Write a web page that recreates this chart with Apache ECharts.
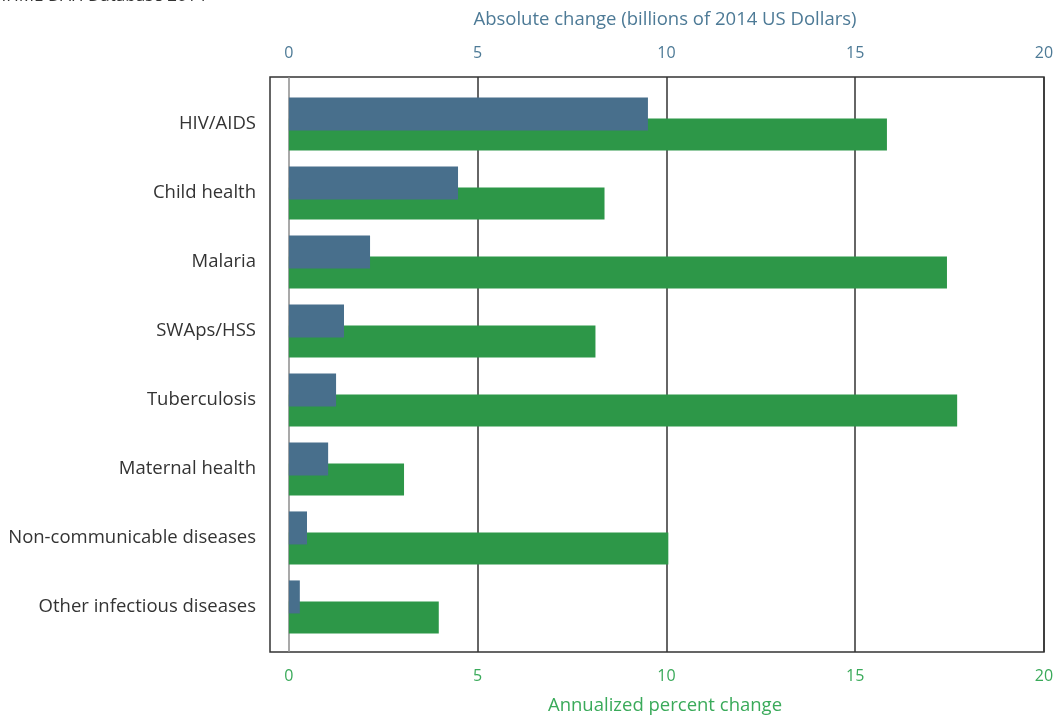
<!DOCTYPE html>
<html>
<head>
<meta charset="utf-8">
<script src="https://cdn.jsdelivr.net/npm/echarts@6/dist/echarts.min.js"></script>
<style>
  html, body { margin: 0; padding: 0; background: #fff; }
  #chart { width: 1062px; height: 719px; }
</style>
</head>
<body>
<div id="chart"></div>
<script>
// categories, top to bottom
var categories = ['HIV/AIDS', 'Child health', 'Malaria', 'SWAps/HSS', 'Tuberculosis',
  'Maternal health', 'Non-communicable diseases', 'Other infectious diseases'];
// absolute change, billions of 2014 US dollars (top axis)
var absChange = [9.51, 4.48, 2.15, 1.46, 1.25, 1.04, 0.48, 0.29];
// annualized percent change (bottom axis)
var pctChange = [15.84, 8.36, 17.43, 8.12, 17.70, 3.05, 10.05, 3.97];
var tickValues = [0, 5, 10, 15, 20];

var blue = '#486f8c';
var green = '#2d9748';
var font = '"Open Sans", "Noto Sans", sans-serif';

var myChart = echarts.init(document.getElementById('chart'));
myChart.setOption({
  animation: false,
  textStyle: { fontFamily: font },
  graphic: [{
    type: 'text',
    x: -62,
    y: 5,
    style: { text: 'Source: IHME DAH Database 2014', fill: '#333', font: '17px ' + font, verticalAlign: 'bottom' }
  }],
  grid: [
    // frame grid, holds both value axes
    { left: 270, right: 18, top: 77, bottom: 67, outerBoundsMode: 'none', show: true, borderColor: '#333', borderWidth: 1.5 },
    // bar grid
    { left: 270, right: 18, top: 89.5, bottom: 77.5, outerBoundsMode: 'none' }
  ],
  xAxis: [
    {
      gridIndex: 0, type: 'value', position: 'bottom', min: -0.5, max: 20,
      name: 'Annualized percent change', nameLocation: 'middle', nameGap: 44,
      nameTextStyle: { color: '#3aaa5a', fontSize: 18.5, fontFamily: font, padding: [0, 0, 0, 16] },
      axisLine: { show: false },
      axisTick: { show: false, customValues: tickValues },
      axisLabel: { customValues: tickValues, color: '#3aaa5a', fontSize: 16, margin: 16 },
      splitLine: { show: true, lineStyle: { color: ['#8c8c8c', '#333', '#333', '#333', '#333'], width: 1.5 } }
    },
    {
      gridIndex: 0, type: 'value', position: 'top', min: -0.5, max: 20,
      name: 'Absolute change (billions of 2014 US Dollars)', nameLocation: 'middle', nameGap: 48,
      nameTextStyle: { color: '#4d7a96', fontSize: 18.5, fontFamily: font, padding: [0, 0, 0, 16] },
      axisLine: { show: false },
      axisTick: { show: false, customValues: tickValues },
      axisLabel: { customValues: tickValues, color: '#4d7a96', fontSize: 16, margin: 16 },
      splitLine: { show: false }
    },
    { gridIndex: 1, type: 'value', min: -0.5, max: 20, show: false }
  ],
  yAxis: [
    { gridIndex: 0, type: 'value', show: false },
    {
      gridIndex: 1, type: 'category', inverse: true, data: categories,
      axisLine: { show: false },
      axisTick: { show: false },
      axisLabel: { color: '#333', fontSize: 18.5, margin: 14 }
    }
  ],
  series: [
    {
      name: 'Absolute change', type: 'bar', xAxisIndex: 2, yAxisIndex: 1,
      data: absChange, barWidth: 33, barGap: '-36%', z: 3,
      itemStyle: { color: blue }
    },
    {
      name: 'Annualized percent change', type: 'bar', xAxisIndex: 2, yAxisIndex: 1,
      data: pctChange, barWidth: 32, barGap: '-36%',
      itemStyle: { color: green }
    }
  ]
});
</script>
</body>
</html>
